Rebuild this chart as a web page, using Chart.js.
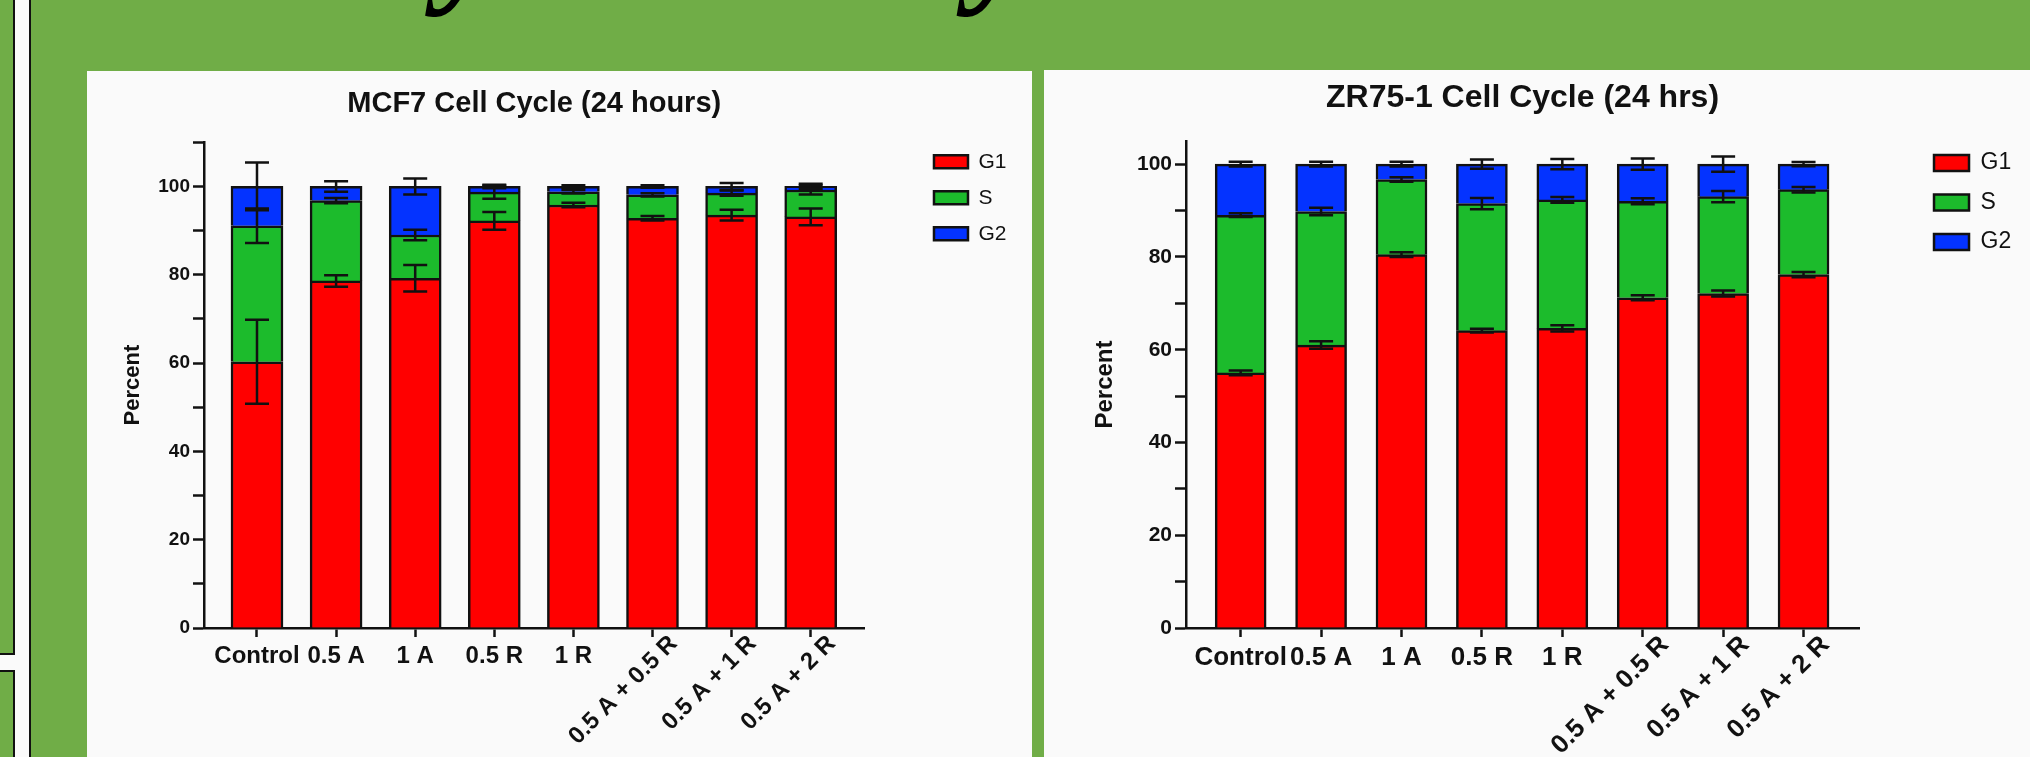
<!DOCTYPE html>
<html>
<head>
<meta charset="utf-8">
<script src="https://cdn.jsdelivr.net/npm/chart.js@4"></script>
<style>
html, body { margin: 0; padding: 0; }
body { width: 2030px; height: 757px; background: #70ad47; position: relative; overflow: hidden; font-family: "Liberation Sans", Arial, sans-serif; }
#gap { position: absolute; left: 0; top: 0; width: 29px; height: 757px; background: #fafafa; border-right: 2px solid #111; }
.strip { position: absolute; left: 0; width: 13px; background: #70ad47; border-right: 2px solid #111; }
#s1 { top: 0; height: 653px; border-bottom: 2px solid #111; }
#s2 { top: 670px; height: 87px; border-top: 2px solid #111; }
.panel { position: absolute; background: #fafafa; }
#p1 { left: 87px; top: 71px; width: 945px; height: 686px; }
#p2 { left: 1044px; top: 70px; width: 986px; height: 687px; }
#banner { position: absolute; left: 80px; top: -129px; font: italic bold 139px/1 "Liberation Serif", serif; color: #000; white-space: nowrap; }
canvas { position: absolute; left: 0; top: 0; }
</style>
</head>
<body>
<div id="gap"></div>
<div class="strip" id="s1"></div>
<div class="strip" id="s2"></div>
<div id="banner">Cell Cycle Analysis</div>
<div class="panel" id="p1"><canvas id="mcf7" width="945" height="686"></canvas></div>
<div class="panel" id="p2"><canvas id="zr75" width="986" height="687"></canvas></div>
<script>
const categories = ['Control', '0.5 A', '1 A', '0.5 R', '1 R', '0.5 A + 0.5 R', '0.5 A + 1 R', '0.5 A + 2 R'];
const phases = ['G1', 'S', 'G2'];
const phaseColors = ['#ff0000', '#1cbb2c', '#0433ff'];

// MCF7, 24 h: mean percent of cells per phase and SD
const mcf7G1 = [60.3, 78.6, 79.2, 92.2, 95.8, 92.8, 93.5, 93.1];
const mcf7S = [30.8, 18.2, 9.8, 6.5, 3.0, 5.3, 5.0, 6.1];
const mcf7G2 = [8.9, 3.2, 11.0, 1.3, 1.2, 1.9, 1.5, 0.8];
const mcf7G1Sd = [9.5, 1.3, 3.0, 2.0, 0.5, 0.5, 1.2, 1.9];
const mcf7SSd = [3.9, 0.6, 1.2, 1.5, 0.4, 0.35, 0.6, 1.0];
const mcf7G2Sd = [5.4, 1.2, 1.8, 0.4, 0.3, 0.3, 0.8, 0.6];

// ZR75-1, 24 h
const zrG1 = [55.0, 61.0, 80.5, 64.1, 64.6, 71.2, 72.1, 76.2];
const zrS = [34.0, 28.8, 16.2, 27.4, 27.7, 20.8, 20.9, 18.3];
const zrG2 = [11.0, 10.2, 3.3, 8.5, 7.7, 8.0, 7.0, 5.5];
const zrG1Sd = [0.5, 0.8, 0.5, 0.4, 0.65, 0.55, 0.65, 0.55];
const zrSSd = [0.4, 0.8, 0.5, 1.2, 0.6, 0.65, 1.2, 0.6];
const zrG2Sd = [0.5, 0.5, 0.5, 1.0, 1.1, 1.2, 1.65, 0.45];

const yLabelEvery = 20;
const ink = '#111';
const sans = '"Liberation Sans", Arial, sans-serif';

// error bars at the top of every stacked segment
const errorBars = {
  id: 'errorBars',
  afterDatasetsDraw(chart, args, opts) {
    const { ctx, scales: { x, y } } = chart;
    const sets = chart.data.datasets;
    ctx.save();
    ctx.strokeStyle = ink;
    ctx.lineWidth = 2.5;
    sets.forEach((ds, i) => {
      ds.data.forEach((pt, j) => {
        let top = 0;
        for (let k = 0; k <= i; k++) top += sets[k].data[j].y;
        const cx = x.getPixelForValue(pt.x);
        const y1 = y.getPixelForValue(top + ds.sd[j]);
        const y2 = y.getPixelForValue(top - ds.sd[j]);
        ctx.beginPath();
        ctx.moveTo(cx, y1); ctx.lineTo(cx, y2);
        ctx.moveTo(cx - opts.cap, y1); ctx.lineTo(cx + opts.cap, y1);
        ctx.moveTo(cx - opts.cap, y2); ctx.lineTo(cx + opts.cap, y2);
        ctx.stroke();
      });
    });
    ctx.restore();
  }
};

// category labels: first ones flat, combined treatments slanted
const xLabels = {
  id: 'xLabels',
  afterDraw(chart, args, opts) {
    const { ctx, scales: { x } } = chart;
    ctx.save();
    ctx.fillStyle = ink;
    ctx.font = 'bold ' + opts.size + 'px ' + sans;
    categories.forEach((label, i) => {
      const px = x.getPixelForValue(i);
      if (i < opts.flat) {
        ctx.textAlign = 'center';
        ctx.textBaseline = 'alphabetic';
        ctx.fillText(label, px, x.top + opts.drop);
      } else {
        ctx.save();
        ctx.translate(px + opts.dx, x.top + opts.dy);
        ctx.rotate(-Math.PI / 4);
        ctx.textAlign = 'right';
        ctx.textBaseline = 'middle';
        ctx.fillText(label, 0, 0);
        ctx.restore();
      }
    });
    ctx.restore();
  }
};

const legendShift = {
  id: 'legendShift',
  beforeDraw(chart, args, opts) {
    chart.legend.top = chart.chartArea.top + opts.offset;
  }
};

function buildChart(id, cfg) {
  const axisGrid = { drawOnChartArea: false, drawTicks: true, tickWidth: 2.5, tickColor: ink };
  const axisBorder = { display: true, color: ink, width: 2.5 };
  return new Chart(document.getElementById(id), {
    type: 'bar',
    data: {
      datasets: phases.map((name, k) => ({
        label: name,
        data: cfg.values[k].map((v, i) => ({ x: i, y: v })),
        sd: cfg.sds[k],
        backgroundColor: phaseColors[k],
        borderColor: ink,
        borderWidth: 2.5,
        barThickness: cfg.barWidth
      }))
    },
    options: {
      responsive: false,
      animation: false,
      layout: { padding: { left: 0, top: 0, bottom: 0, right: cfg.padRight } },
      scales: {
        x: {
          type: 'linear', stacked: true, offset: false, min: cfg.xMin, max: cfg.xMax,
          afterFit: s => { s.height = cfg.xHeight; },
          grid: Object.assign({ tickLength: 9, offset: false }, axisGrid),
          border: axisBorder,
          ticks: { display: false, stepSize: 1, includeBounds: false, autoSkip: false }
        },
        y: {
          stacked: true, min: 0, max: cfg.yMax,
          afterFit: s => { s.width = cfg.yWidth; },
          grid: Object.assign({ tickLength: 11 }, axisGrid),
          border: axisBorder,
          ticks: {
            stepSize: 10, includeBounds: false, autoSkip: false, padding: 3, color: ink,
            font: { family: sans, weight: 'bold', size: cfg.tickSize },
            callback: v => (v % yLabelEvery === 0 ? v : '')
          },
          title: {
            display: true, text: 'Percent', color: ink,
            font: { family: sans, weight: 'bold', size: cfg.yTitleSize },
            padding: { top: cfg.yTitlePad, bottom: 0 }
          }
        },
        spacer: {
          type: 'linear', position: 'right', display: true,
          grid: { display: false }, border: { display: false }, ticks: { display: false },
          afterFit: s => { s.width = cfg.gap; }
        }
      },
      plugins: {
        title: {
          display: true, text: cfg.title, fullSize: false, color: ink,
          font: { family: sans, weight: 'bold', size: cfg.titleSize },
          padding: cfg.titlePad
        },
        legend: {
          position: 'right', align: 'start', fullSize: false,
          labels: {
            boxWidth: cfg.boxW, boxHeight: cfg.boxH, padding: cfg.legendPad, color: ink,
            font: { family: sans, size: cfg.legendSize }
          }
        },
        tooltip: { enabled: false },
        errorBars: { cap: 12 },
        xLabels: cfg.labels,
        legendShift: { offset: -6 }
      }
    },
    plugins: [errorBars, xLabels, legendShift]
  });
}

buildChart('mcf7', {
  title: 'MCF7 Cell Cycle (24 hours)',
  values: [mcf7G1, mcf7S, mcf7G2],
  sds: [mcf7G1Sd, mcf7SSd, mcf7G2Sd],
  yMax: 110, xMin: -0.67, xMax: 7.68, barWidth: 52,
  yWidth: 117, xHeight: 129, gap: 54.5, padRight: 15.5,
  tickSize: 19, yTitleSize: 22, yTitlePad: 32.5,
  titleSize: 29, titlePad: { top: 15.5, bottom: 21 },
  boxW: 34, boxH: 13, legendPad: 15, legendSize: 21,
  labels: { size: 24, flat: 5, drop: 35, dx: 21, dy: 12 }
});

buildChart('zr75', {
  title: 'ZR75-1 Cell Cycle (24 hrs)',
  values: [zrG1, zrS, zrG2],
  sds: [zrG1Sd, zrSSd, zrG2Sd],
  yMax: 105, xMin: -0.68, xMax: 7.69, barWidth: 51,
  yWidth: 142, xHeight: 129, gap: 58.5, padRight: 8.8,
  tickSize: 21, yTitleSize: 24, yTitlePad: 47.4,
  titleSize: 32, titlePad: { top: 8.5, bottom: 24.1 },
  boxW: 35, boxH: 16, legendPad: 16.5, legendSize: 23,
  labels: { size: 26, flat: 5, drop: 37, dx: 22, dy: 13 }
});
</script>
</body>
</html>
